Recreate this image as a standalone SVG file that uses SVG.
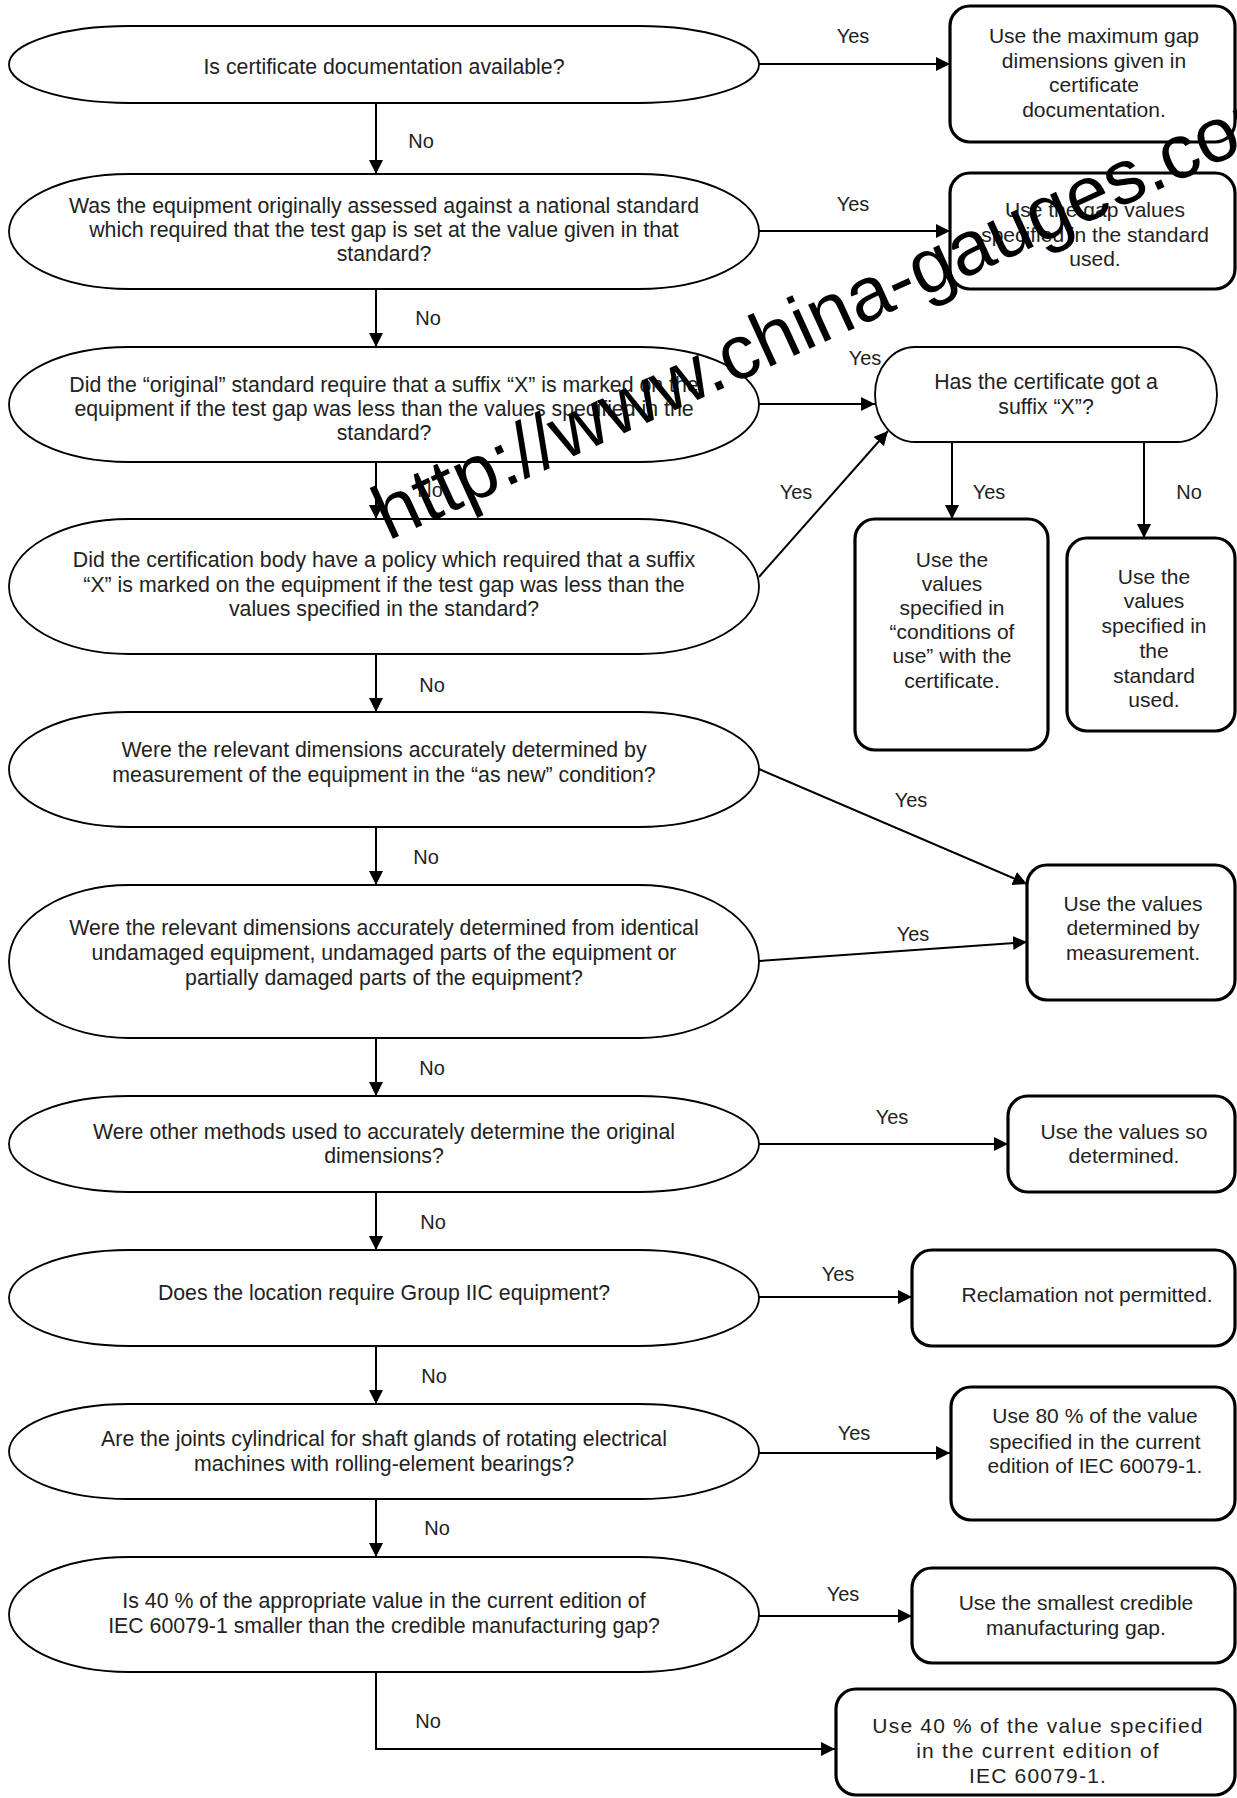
<svg xmlns="http://www.w3.org/2000/svg" width="1237" height="1798" viewBox="0 0 1237 1798">
<defs>
<marker id="ah" markerWidth="14" markerHeight="14" refX="14" refY="7" orient="auto" markerUnits="userSpaceOnUse"><path d="M0,0 L14,7 L0,14 z" fill="#000"/></marker>
<style>
text{font-family:"Liberation Sans",Arial,sans-serif;font-size:21px;fill:#222;text-anchor:middle}
.q text{font-size:21.3px}
.lbl{font-size:20px}
.st{fill:#fff;stroke:#000;stroke-width:1.8}
.bx{fill:#fff;stroke:#000;stroke-width:3.2}
.cn{fill:none;stroke:#000;stroke-width:2;marker-end:url(#ah)}
.wm{font-size:77px;fill:#000;text-anchor:start}
</style>
</defs>
<rect width="1237" height="1798" fill="#fff"/>

<g id="connectors">
<path class="cn" d="M376,103 V174"/>
<path class="cn" d="M376,289 V347"/>
<path class="cn" d="M376,462 V519"/>
<path class="cn" d="M376,654 V712"/>
<path class="cn" d="M376,827 V885"/>
<path class="cn" d="M376,1038 V1096"/>
<path class="cn" d="M376,1192 V1250"/>
<path class="cn" d="M376,1346 V1404"/>
<path class="cn" d="M376,1499 V1557"/>
<path class="cn" d="M376,1672 V1749 H835"/>
<path class="cn" d="M759,64 H950"/>
<path class="cn" d="M759,231 H950"/>
<path class="cn" d="M759,404 H875"/>
<path class="cn" d="M759,577 L888,431"/>
<path class="cn" d="M952,442 V519"/>
<path class="cn" d="M1144,442 V538"/>
<path class="cn" d="M759,769 L1027,884"/>
<path class="cn" d="M759,961 L1027,942"/>
<path class="cn" d="M759,1144 H1008"/>
<path class="cn" d="M759,1297 H912"/>
<path class="cn" d="M759,1453 H950"/>
<path class="cn" d="M759,1616 H912"/>
<text class="lbl" x="421" y="148">No</text>
<text class="lbl" x="428" y="325">No</text>
<text class="lbl" x="430" y="497">No</text>
<text class="lbl" x="432" y="692">No</text>
<text class="lbl" x="426" y="864">No</text>
<text class="lbl" x="432" y="1075">No</text>
<text class="lbl" x="433" y="1229">No</text>
<text class="lbl" x="434" y="1383">No</text>
<text class="lbl" x="437" y="1535">No</text>
<text class="lbl" x="428" y="1728">No</text>
<text class="lbl" x="853" y="43">Yes</text>
<text class="lbl" x="853" y="211">Yes</text>
<text class="lbl" x="865" y="365">Yes</text>
<text class="lbl" x="796" y="499">Yes</text>
<text class="lbl" x="989" y="499">Yes</text>
<text class="lbl" x="1189" y="499">No</text>
<text class="lbl" x="911" y="807">Yes</text>
<text class="lbl" x="913" y="941">Yes</text>
<text class="lbl" x="892" y="1124">Yes</text>
<text class="lbl" x="838" y="1281">Yes</text>
<text class="lbl" x="854" y="1440">Yes</text>
<text class="lbl" x="843" y="1601">Yes</text>
</g>

<g id="q1" class="q"><rect class="st" x="9" y="26" width="750" height="77" rx="120" ry="38.5"/>
<text x="384" y="74">Is certificate documentation available?</text></g>

<g id="q2" class="q"><rect class="st" x="9" y="174" width="750" height="115" rx="120" ry="57.5"/>
<text x="384" y="213">Was the equipment originally assessed against a national standard</text>
<text x="384" y="237">which required that the test gap is set at the value given in that</text>
<text x="384" y="261">standard?</text></g>

<g id="q3" class="q"><rect class="st" x="9" y="347" width="750" height="115" rx="120" ry="57.5"/>
<text x="384" y="392">Did the “original” standard require that a suffix “X” is marked on the</text>
<text x="384" y="416">equipment if the test gap was less than the values specified in the</text>
<text x="384" y="440">standard?</text></g>

<g id="q4" class="q"><rect class="st" x="9" y="519" width="750" height="135" rx="120" ry="67.5"/>
<text x="384" y="567">Did the certification body have a policy which required that a suffix</text>
<text x="384" y="592">“X” is marked on the equipment if the test gap was less than the</text>
<text x="384" y="616">values specified in the standard?</text></g>

<g id="q5" class="q"><rect class="st" x="9" y="712" width="750" height="115" rx="120" ry="57.5"/>
<text x="384" y="757">Were the relevant dimensions accurately determined by</text>
<text x="384" y="782">measurement of the equipment in the “as new” condition?</text></g>

<g id="q6" class="q"><rect class="st" x="9" y="885" width="750" height="153" rx="120" ry="76.5"/>
<text x="384" y="935">Were the relevant dimensions accurately determined from identical</text>
<text x="384" y="960">undamaged equipment, undamaged parts of the equipment or</text>
<text x="384" y="985">partially damaged parts of the equipment?</text></g>

<g id="q7" class="q"><rect class="st" x="9" y="1096" width="750" height="96" rx="120" ry="48"/>
<text x="384" y="1139">Were other methods used to accurately determine the original</text>
<text x="384" y="1163">dimensions?</text></g>

<g id="q8" class="q"><rect class="st" x="9" y="1250" width="750" height="96" rx="120" ry="48"/>
<text x="384" y="1300">Does the location require Group IIC equipment?</text></g>

<g id="q9" class="q"><rect class="st" x="9" y="1404" width="750" height="95" rx="120" ry="47.5"/>
<text x="384" y="1446">Are the joints cylindrical for shaft glands of rotating electrical</text>
<text x="384" y="1471">machines with rolling-element bearings?</text></g>

<g id="q10" class="q"><rect class="st" x="9" y="1557" width="750" height="115" rx="120" ry="57.5"/>
<text x="384" y="1608">Is 40 % of the appropriate value in the current edition of</text>
<text x="384" y="1633">IEC 60079-1 smaller than the credible manufacturing gap?</text></g>

<g id="qx" class="q"><rect class="st" x="875" y="347" width="342" height="95" rx="40" ry="47.5"/>
<text x="1046" y="389">Has the certificate got a</text>
<text x="1046" y="414">suffix “X”?</text></g>

<g id="r1"><rect class="bx" x="950" y="6" width="285" height="136" rx="20"/>
<text x="1094" y="43">Use the maximum gap</text>
<text x="1094" y="68">dimensions given in</text>
<text x="1094" y="92">certificate</text>
<text x="1094" y="117">documentation.</text></g>

<g id="r2"><rect class="bx" x="950" y="173" width="285" height="116" rx="20"/>
<text x="1095" y="217">Use the gap values</text>
<text x="1095" y="242">specified in the standard</text>
<text x="1095" y="266">used.</text></g>

<g id="r3"><rect class="bx" x="855" y="519" width="193" height="231" rx="20"/>
<text x="952" y="567">Use the</text>
<text x="952" y="591">values</text>
<text x="952" y="615">specified in</text>
<text x="952" y="639">“conditions of</text>
<text x="952" y="663">use” with the</text>
<text x="952" y="688">certificate.</text></g>

<g id="r4"><rect class="bx" x="1067" y="538" width="168" height="193" rx="20"/>
<text x="1154" y="584">Use the</text>
<text x="1154" y="608">values</text>
<text x="1154" y="633">specified in</text>
<text x="1154" y="658">the</text>
<text x="1154" y="683">standard</text>
<text x="1154" y="707">used.</text></g>

<g id="r5"><rect class="bx" x="1027" y="865" width="208" height="135" rx="20"/>
<text x="1133" y="911">Use the values</text>
<text x="1133" y="935">determined by</text>
<text x="1133" y="960">measurement.</text></g>

<g id="r6"><rect class="bx" x="1008" y="1096" width="227" height="96" rx="20"/>
<text x="1124" y="1139">Use the values so</text>
<text x="1124" y="1163">determined.</text></g>

<g id="r7"><rect class="bx" x="912" y="1250" width="323" height="96" rx="20"/>
<text x="1087" y="1302">Reclamation not permitted.</text></g>

<g id="r8"><rect class="bx" x="951" y="1387" width="284" height="133" rx="20"/>
<text x="1095" y="1423">Use 80 % of the value</text>
<text x="1095" y="1449">specified in the current</text>
<text x="1095" y="1473">edition of IEC 60079-1.</text></g>

<g id="r9"><rect class="bx" x="912" y="1568" width="323" height="95" rx="20"/>
<text x="1076" y="1610">Use the smallest credible</text>
<text x="1076" y="1635">manufacturing gap.</text></g>

<g id="r10"><rect class="bx" x="836" y="1689" width="399" height="106" rx="20"/>
<text x="1038" y="1733" letter-spacing="1.2">Use 40 % of the value specified</text>
<text x="1038" y="1758" letter-spacing="1.2">in the current edition of</text>
<text x="1038" y="1783" letter-spacing="1.2">IEC 60079-1.</text></g>

<g id="watermark"><text class="wm" x="388" y="541" transform="rotate(-24.5 388 541)">http://www.china-gauges.com</text></g>
</svg>
